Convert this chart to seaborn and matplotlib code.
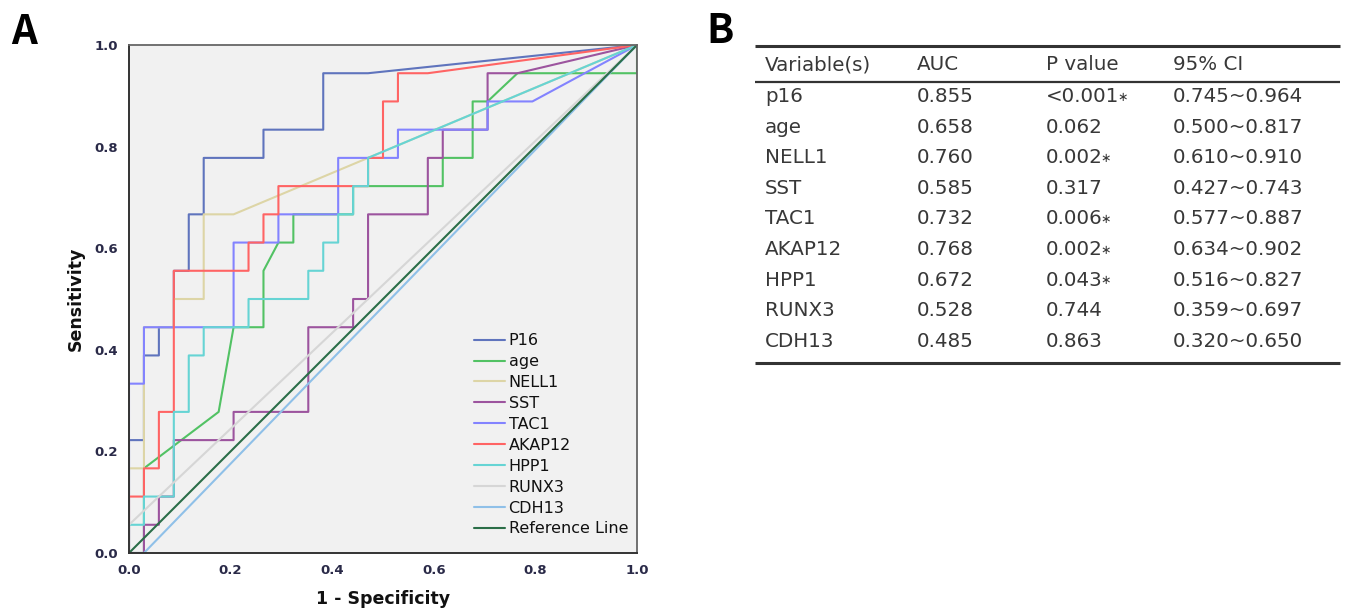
import matplotlib
matplotlib.use("Agg")
import matplotlib.pyplot as plt
import seaborn as sns
import pandas as pd
from matplotlib.lines import Line2D

# ---------------- data ----------------
N_NEG = 34   # negatives (1 - specificity step = 1/34)
N_POS = 18   # positives (sensitivity step = 1/18)

series_names = ["P16", "age", "NELL1", "SST", "TAC1", "AKAP12", "HPP1", "RUNX3", "CDH13", "Reference Line"]
series_colors = ["#5f74bd", "#52c264", "#ddd5a6", "#9c549e", "#8383ff", "#ff6464",
                 "#66d4d4", "#d6d6d6", "#8fc0e8", "#2b6e48"]

# ROC vertices given as (false-positive count, true-positive count)
P16_fp = [0, 0, 1, 1, 2, 2, 3, 3, 4, 4, 5, 5, 9, 9, 13, 13, 16, 34]
P16_tp = [0, 4, 4, 7, 7, 8, 8, 10, 10, 12, 12, 14, 14, 15, 15, 17, 17, 18]

age_fp = [0, 1, 1, 6, 7, 9, 9, 10, 11, 11, 15, 15, 21, 21, 23, 23, 24, 26, 34, 34]
age_tp = [0, 0, 3, 5, 8, 8, 10, 11, 11, 12, 12, 13, 13, 14, 14, 16, 16, 17, 17, 18]

NELL1_fp = [0, 0, 1, 1, 3, 3, 5, 5, 7, 34]
NELL1_tp = [0, 3, 3, 8, 8, 9, 9, 12, 12, 18]

SST_fp = [0, 1, 1, 2, 2, 3, 3, 7, 7, 12, 12, 15, 15, 16, 16, 20, 20, 21, 21, 24, 24, 26, 34]
SST_tp = [0, 0, 1, 1, 2, 2, 4, 4, 5, 5, 8, 8, 9, 9, 12, 12, 14, 14, 15, 15, 17, 17, 18]

TAC1_fp = [0, 0, 1, 1, 7, 7, 10, 10, 14, 14, 18, 18, 24, 24, 27, 34]
TAC1_tp = [0, 6, 6, 8, 8, 11, 11, 12, 12, 14, 14, 15, 15, 16, 16, 18]

AKAP12_fp = [0, 0, 1, 1, 2, 2, 3, 3, 8, 8, 9, 9, 10, 10, 16, 16, 17, 17, 18, 18, 20, 34]
AKAP12_tp = [0, 2, 2, 3, 3, 5, 5, 10, 10, 11, 11, 12, 12, 13, 13, 14, 14, 16, 16, 17, 17, 18]

HPP1_fp = [0, 0, 1, 1, 3, 3, 4, 4, 5, 5, 8, 8, 12, 12, 13, 13, 14, 14, 15, 15, 16, 16, 34]
HPP1_tp = [0, 1, 1, 2, 2, 5, 5, 7, 7, 8, 8, 9, 9, 10, 10, 11, 11, 12, 12, 13, 13, 14, 18]

RUNX3_fp = [0, 0, 34]
RUNX3_tp = [0, 1, 18]

CDH13_fp = [0, 1, 34]
CDH13_tp = [0, 0, 18]

REF_fp = [0, 34]
REF_tp = [0, 18]

# table (panel B)
table_header = ["Variable(s)", "AUC", "P value", "95% CI"]
table_vars = ["p16", "age", "NELL1", "SST", "TAC1", "AKAP12", "HPP1", "RUNX3", "CDH13"]
table_auc = ["0.855", "0.658", "0.760", "0.585", "0.732", "0.768", "0.672", "0.528", "0.485"]
table_p = ["<0.001*", "0.062", "0.002*", "0.317", "0.006*", "0.002*", "0.043*", "0.744", "0.863"]
table_ci = ["0.745~0.964", "0.500~0.817", "0.610~0.910", "0.427~0.743", "0.577~0.887",
            "0.634~0.902", "0.516~0.827", "0.359~0.697", "0.320~0.650"]

# ---------------- build long table ----------------
pairs = [(P16_fp, P16_tp), (age_fp, age_tp), (NELL1_fp, NELL1_tp), (SST_fp, SST_tp),
         (TAC1_fp, TAC1_tp), (AKAP12_fp, AKAP12_tp), (HPP1_fp, HPP1_tp),
         (RUNX3_fp, RUNX3_tp), (CDH13_fp, CDH13_tp), (REF_fp, REF_tp)]
rows = []
for name, (fp, tp) in zip(series_names, pairs):
    for i, (a, b) in enumerate(zip(fp, tp)):
        rows.append({"series": name, "order": i, "fpr": a / N_NEG, "tpr": b / N_POS})
df = pd.DataFrame(rows)

# ---------------- figure ----------------
sns.set_style("white")
plt.rcParams["font.family"] = ["DejaVu Sans"]

W, H = 1352, 616
fig = plt.figure(figsize=(W / 100, H / 100), dpi=100)

ax = fig.add_axes([129 / W, 1 - 553 / H, 508 / W, 508 / H])
ax.set_facecolor("#f1f1f1")

palette = dict(zip(series_names, series_colors))
sns.lineplot(data=df, x="fpr", y="tpr", hue="series", hue_order=series_names,
             palette=palette, sort=False, estimator=None, units="series",
             linewidth=1.5, ax=ax, legend=False)

ax.set_xlim(0, 1)
ax.set_ylim(0, 1)
ticks = [0.0, 0.2, 0.4, 0.6, 0.8, 1.0]
ax.set_xticks(ticks)
ax.set_yticks(ticks)
ax.set_xticklabels([f"{t:.1f}" for t in ticks])
ax.set_yticklabels([f"{t:.1f}" for t in ticks])
ax.tick_params(axis="both", direction="out", length=6, width=1.2, color="#333333",
               labelsize=9.5, labelcolor="#2a2a48", pad=2)
for lab in ax.get_xticklabels() + ax.get_yticklabels():
    lab.set_fontweight("bold")
for s in ["left", "bottom"]:
    ax.spines[s].set_color("#333333")
    ax.spines[s].set_linewidth(1.4)
for s in ["top", "right"]:
    ax.spines[s].set_color("#666666")
    ax.spines[s].set_linewidth(1.3)

ax.set_xlabel("1 - Specificity", fontsize=12.5, fontweight="bold", labelpad=9.5, color="#111111")
ax.set_ylabel("Sensitivity", fontsize=12.5, fontweight="bold", labelpad=7, color="#111111")

handles = [Line2D([0], [0], color=c, lw=1.5) for c in series_colors]
leg = ax.legend(handles, series_names, loc="lower left", bbox_to_anchor=(0.667, 0.02),
                frameon=False, fontsize=11.5, handlelength=1.9, handletextpad=0.25,
                labelspacing=0.37, borderaxespad=0.0)
for t in leg.get_texts():
    t.set_color("#111111")

# panel letters
fig.text(11 / W, 1 - 44 / H, "A", fontsize=29, fontweight="bold",
         family=["Noto Sans CJK SC", "DejaVu Sans"], color="black")
fig.text(706 / W, 1 - 43 / H, "B", fontsize=29, fontweight="bold",
         family=["Noto Sans CJK SC", "DejaVu Sans"], color="black")

# ---------------- table (panel B) ----------------
tax = fig.add_axes([0, 0, 1, 1])
tax.set_xlim(0, W)
tax.set_ylim(H, 0)
tax.axis("off")
tax.patch.set_alpha(0)

tfont = ["DejaVu Sans"]
tcol = "#383838"
x_left, x_right = 755, 1340
col_x = [765, 917, 1046, 1173]
tax.plot([x_left, x_right], [46, 46], color="#333333", lw=2.2, solid_capstyle="butt")
tax.plot([x_left, x_right], [81.5, 81.5], color="#333333", lw=1.6, solid_capstyle="butt")
tax.plot([x_left, x_right], [363, 363], color="#333333", lw=2.2, solid_capstyle="butt")

fs = 14.3
for cx, txt in zip(col_x, table_header):
    tax.text(cx, 65, txt, fontsize=fs, family=tfont, color=tcol, va="center", ha="left")
row_y0, row_dy = 96.5, 30.6
for i in range(len(table_vars)):
    y = row_y0 + i * row_dy
    vals = [table_vars[i], table_auc[i], table_p[i], table_ci[i]]
    for cx, txt in zip(col_x, vals):
        if txt.endswith("*"):
            t = tax.text(cx, y, txt[:-1], fontsize=fs, family=tfont, color=tcol, va="center", ha="left")
            tax.annotate("\u2217", xy=(1, 0.5), xycoords=t, xytext=(-1.5, -0.5), textcoords="offset points",
                         fontsize=9, family=tfont, color=tcol, va="center", ha="left")
        else:
            tax.text(cx, y, txt, fontsize=fs, family=tfont, color=tcol, va="center", ha="left")

fig.savefig("out.png", dpi=100)
